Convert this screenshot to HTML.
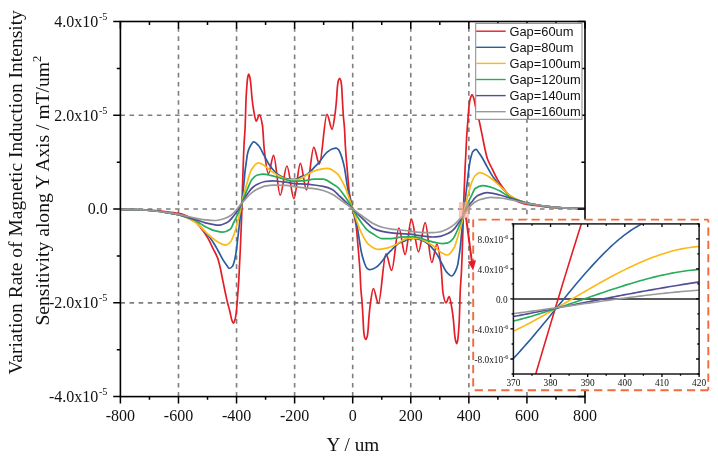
<!DOCTYPE html><html><head><meta charset="utf-8"><style>
html,body{margin:0;padding:0;background:#fff;}
svg{display:block;will-change:transform;}
text{font-family:"Liberation Serif",serif;fill:#111;}
.sans{font-family:"Liberation Sans",sans-serif;}
</style></head><body>
<svg width="718" height="461" viewBox="0 0 718 461">
<defs>
<clipPath id="cp"><rect x="120.40" y="21.50" width="464.60" height="375.10"/></clipPath>
<clipPath id="cpi"><rect x="513.4" y="223.9" width="185.7" height="150.1"/></clipPath>
</defs>
<rect width="718" height="461" fill="#fff"/>

<line x1="178.48" y1="396.60" x2="178.48" y2="21.50" stroke="#7e7e7e" stroke-width="1.6" stroke-dasharray="4.56 4.56"/>
<line x1="236.55" y1="396.60" x2="236.55" y2="21.50" stroke="#7e7e7e" stroke-width="1.6" stroke-dasharray="4.56 4.56"/>
<line x1="294.62" y1="396.60" x2="294.62" y2="21.50" stroke="#7e7e7e" stroke-width="1.6" stroke-dasharray="4.56 4.56"/>
<line x1="352.70" y1="396.60" x2="352.70" y2="21.50" stroke="#7e7e7e" stroke-width="1.6" stroke-dasharray="4.56 4.56"/>
<line x1="410.77" y1="396.60" x2="410.77" y2="21.50" stroke="#7e7e7e" stroke-width="1.6" stroke-dasharray="4.56 4.56"/>
<line x1="468.85" y1="396.60" x2="468.85" y2="21.50" stroke="#7e7e7e" stroke-width="1.6" stroke-dasharray="4.56 4.56"/>
<line x1="526.92" y1="396.60" x2="526.92" y2="21.50" stroke="#7e7e7e" stroke-width="1.6" stroke-dasharray="4.56 4.56"/>
<line x1="120.40" y1="115.27" x2="585.00" y2="115.27" stroke="#7e7e7e" stroke-width="1.6" stroke-dasharray="4.56 4.56"/>
<line x1="120.40" y1="209.05" x2="585.00" y2="209.05" stroke="#7e7e7e" stroke-width="1.6" stroke-dasharray="4.56 4.56"/>
<line x1="120.40" y1="302.83" x2="585.00" y2="302.83" stroke="#7e7e7e" stroke-width="1.6" stroke-dasharray="4.56 4.56"/>
<g clip-path="url(#cp)" fill="none" stroke-width="1.7" stroke-linejoin="round">
<path d="M120.40,209.30C125.27,209.35 130.13,209.47 135.00,209.60C140.00,209.74 145.00,209.92 150.00,210.20C155.00,210.48 160.00,211.06 165.00,211.60C169.47,212.08 173.93,212.49 178.40,213.30C180.27,213.64 182.13,214.17 184.00,214.80C186.00,215.48 188.00,216.46 190.00,217.60C191.67,218.55 193.33,219.72 195.00,221.20C197.60,223.50 200.20,227.10 202.80,230.60C204.53,232.93 206.27,235.42 208.00,238.40C209.73,241.38 211.47,245.31 213.20,248.90C214.80,252.21 216.40,254.52 218.00,259.10C218.87,261.58 219.73,265.63 220.60,269.50C221.30,272.62 222.00,276.55 222.70,280.00C223.73,285.09 224.77,290.23 225.80,295.00C226.40,297.77 227.00,300.57 227.60,303.00C228.37,306.11 229.13,308.34 229.90,311.50C230.47,313.83 231.03,317.57 231.60,319.30C232.17,321.03 232.73,323.20 233.30,323.20C233.90,323.20 234.50,321.26 235.10,319.30C235.53,317.88 235.97,315.10 236.40,311.50C236.63,309.56 236.87,305.97 237.10,303.00C237.30,300.45 237.50,297.69 237.70,295.00C238.07,290.06 238.43,286.21 238.80,280.00C239.03,276.05 239.27,269.67 239.50,265.00C239.77,259.66 240.03,255.66 240.30,250.00C240.70,241.51 241.10,230.70 241.50,220.00C241.70,214.65 241.90,210.02 242.10,203.00C242.20,199.49 242.30,193.67 242.40,190.00C242.73,177.78 243.07,169.02 243.40,160.00C243.60,154.59 243.80,148.91 244.00,145.00C244.37,137.83 244.73,135.52 245.10,128.00C245.43,121.17 245.77,104.67 246.10,98.00C246.43,91.33 246.77,86.72 247.10,83.00C247.30,80.77 247.50,78.51 247.70,77.50C248.03,75.82 248.37,74.20 248.70,74.20C249.07,74.20 249.43,75.63 249.80,77.00C250.10,78.12 250.40,80.51 250.70,83.00C251.13,86.60 251.57,94.03 252.00,98.00C252.53,102.88 253.07,107.02 253.60,110.00C254.47,114.85 255.33,121.20 256.20,121.20C257.27,121.20 258.33,114.90 259.40,114.90C260.40,114.90 261.40,119.39 262.40,125.00C263.03,128.55 263.67,144.64 264.30,150.00C265.67,161.56 267.03,173.80 268.40,173.80C270.13,173.80 271.87,155.30 273.60,155.30C275.80,155.30 278.00,195.20 280.20,195.20C282.43,195.20 284.67,166.00 286.90,166.00C289.27,166.00 291.63,198.60 294.00,198.60C296.10,198.60 298.20,163.30 300.30,163.30C302.37,163.30 304.43,189.80 306.50,189.80C308.93,189.80 311.37,147.40 313.80,147.40C315.67,147.40 317.53,164.00 319.40,164.00C321.93,164.00 324.47,114.30 327.00,114.30C328.70,114.30 330.40,129.30 332.10,129.30C333.03,129.30 333.97,121.34 334.90,115.00C335.43,111.38 335.97,106.19 336.50,100.00C336.80,96.52 337.10,89.71 337.40,87.00C337.73,83.99 338.07,81.47 338.40,80.50C338.80,79.34 339.20,78.30 339.60,78.30C340.00,78.30 340.40,79.30 340.80,80.50C341.10,81.40 341.40,83.82 341.70,87.00C341.93,89.47 342.17,95.89 342.40,100.00C342.70,105.28 343.00,110.86 343.30,115.00C343.73,120.97 344.17,123.30 344.60,130.00C344.83,133.61 345.07,141.05 345.30,145.00C345.67,151.21 346.03,155.41 346.40,160.00C346.83,165.43 347.27,170.00 347.70,175.00C348.13,180.00 348.57,186.57 349.00,190.00C349.57,194.48 350.13,197.12 350.70,200.00C351.37,203.39 352.03,205.93 352.70,208.90C353.37,211.87 354.03,214.41 354.70,217.80C355.27,220.68 355.83,223.32 356.40,227.80C356.83,231.23 357.27,237.80 357.70,242.80C358.13,247.80 358.57,252.37 359.00,257.80C359.37,262.39 359.73,266.59 360.10,272.80C360.33,276.75 360.57,284.19 360.80,287.80C361.23,294.50 361.67,296.83 362.10,302.80C362.40,306.94 362.70,312.52 363.00,317.80C363.23,321.91 363.47,328.33 363.70,330.80C364.00,333.98 364.30,336.40 364.60,337.30C365.00,338.50 365.40,339.50 365.80,339.50C366.20,339.50 366.60,338.46 367.00,337.30C367.33,336.33 367.67,333.81 368.00,330.80C368.30,328.09 368.60,321.28 368.90,317.80C369.43,311.61 369.97,306.42 370.50,302.80C371.43,296.46 372.37,288.50 373.30,288.50C375.00,288.50 376.70,303.50 378.40,303.50C380.93,303.50 383.47,253.80 386.00,253.80C387.87,253.80 389.73,270.40 391.60,270.40C394.03,270.40 396.47,228.00 398.90,228.00C400.97,228.00 403.03,254.50 405.10,254.50C407.20,254.50 409.30,219.20 411.40,219.20C413.77,219.20 416.13,251.80 418.50,251.80C420.73,251.80 422.97,222.60 425.20,222.60C427.40,222.60 429.60,262.50 431.80,262.50C433.53,262.50 435.27,244.00 437.00,244.00C438.37,244.00 439.73,256.24 441.10,267.80C441.73,273.16 442.37,289.25 443.00,292.80C444.00,298.41 445.00,302.90 446.00,302.90C447.07,302.90 448.13,296.60 449.20,296.60C450.07,296.60 450.93,302.95 451.80,307.80C452.33,310.78 452.87,314.92 453.40,319.80C453.83,323.77 454.27,331.20 454.70,334.80C455.00,337.29 455.30,339.68 455.60,340.80C455.97,342.17 456.33,343.60 456.70,343.60C457.03,343.60 457.37,341.98 457.70,340.30C457.90,339.29 458.10,337.03 458.30,334.80C458.63,331.08 458.97,326.47 459.30,319.80C459.63,313.13 459.97,296.63 460.30,289.80C460.67,282.28 461.03,279.97 461.40,272.80C461.60,268.89 461.80,263.21 462.00,257.80C462.33,248.78 462.67,240.02 463.00,227.80C463.10,224.13 463.20,218.31 463.30,214.80C463.50,207.78 463.70,203.15 463.90,197.80C464.30,187.10 464.70,176.29 465.10,167.80C465.37,162.14 465.63,158.14 465.90,152.80C466.13,148.13 466.37,141.75 466.60,137.80C466.97,131.59 467.33,127.74 467.70,122.80C467.90,120.11 468.10,117.35 468.30,114.80C468.53,111.83 468.77,108.24 469.00,106.30C469.43,102.70 469.87,99.92 470.30,98.50C470.90,96.54 471.50,94.60 472.10,94.60C472.67,94.60 473.23,96.77 473.80,98.50C474.37,100.23 474.93,103.97 475.50,106.30C476.27,109.46 477.03,111.69 477.80,114.80C478.40,117.23 479.00,120.03 479.60,122.80C480.63,127.57 481.67,132.71 482.70,137.80C483.40,141.25 484.10,145.18 484.80,148.30C485.67,152.17 486.53,156.22 487.40,158.70C489.00,163.28 490.60,165.59 492.20,168.90C493.93,172.49 495.67,176.42 497.40,179.40C499.13,182.38 500.87,184.87 502.60,187.20C505.20,190.70 507.80,194.30 510.40,196.60C512.07,198.08 513.73,199.25 515.40,200.20C517.40,201.34 519.40,202.32 521.40,203.00C523.27,203.63 525.13,204.16 527.00,204.50C531.47,205.31 535.93,205.72 540.40,206.20C545.40,206.74 550.40,207.32 555.40,207.60C560.40,207.88 565.40,208.06 570.40,208.20C575.27,208.33 580.13,208.45 585.00,208.50" stroke="#e41e26"/>
<path d="M120.40,209.30C125.27,209.37 130.13,209.52 135.00,209.70C140.00,209.88 145.00,210.13 150.00,210.50C155.00,210.87 160.00,211.59 165.00,212.30C169.47,212.93 173.93,213.55 178.40,214.60C180.60,215.12 182.80,215.98 185.00,216.80C186.67,217.42 188.33,218.11 190.00,218.90C191.67,219.69 193.33,220.46 195.00,221.60C197.60,223.38 200.20,226.52 202.80,229.30C203.53,230.09 204.27,230.95 205.00,231.80C206.53,233.58 208.07,235.31 209.60,237.30C211.10,239.25 212.60,241.33 214.10,243.70C215.57,246.02 217.03,248.86 218.50,251.50C220.07,254.32 221.63,257.57 223.20,260.10C224.43,262.09 225.67,263.85 226.90,265.50C227.70,266.57 228.50,268.50 229.30,268.50C230.37,268.50 231.43,267.54 232.50,266.30C233.17,265.52 233.83,263.00 234.50,260.50C235.00,258.62 235.50,255.92 236.00,252.80C236.53,249.47 237.07,244.42 237.60,240.00C238.07,236.13 238.53,232.00 239.00,228.00C239.47,224.00 239.93,220.02 240.40,216.00C240.90,211.69 241.40,207.57 241.90,203.00C242.23,199.95 242.57,196.65 242.90,193.40C243.27,189.83 243.63,186.29 244.00,182.50C244.33,179.05 244.67,174.68 245.00,171.70C245.50,167.23 246.00,163.95 246.50,160.50C246.87,157.97 247.23,154.97 247.60,153.40C248.23,150.69 248.87,148.86 249.50,147.60C250.90,144.81 252.30,141.80 253.70,141.80C255.30,141.80 256.90,143.80 258.50,145.50C260.30,147.41 262.10,151.75 263.90,155.00C265.47,157.83 267.03,161.31 268.60,163.70C270.63,166.80 272.67,169.49 274.70,171.50C276.47,173.24 278.23,174.77 280.00,175.80C282.00,176.96 284.00,178.09 286.00,178.50C288.00,178.91 290.00,179.30 292.00,179.30C293.43,179.30 294.87,179.17 296.30,179.00C297.90,178.81 299.50,177.26 301.10,176.60C302.73,175.93 304.37,175.69 306.00,174.90C307.37,174.24 308.73,172.91 310.10,171.70C311.73,170.25 313.37,168.26 315.00,166.60C316.33,165.24 317.67,164.18 319.00,162.60C320.10,161.30 321.20,159.32 322.30,157.90C323.93,155.79 325.57,153.58 327.20,152.20C328.80,150.85 330.40,149.52 332.00,149.00C333.37,148.55 334.73,148.10 336.10,148.10C336.90,148.10 337.70,148.83 338.50,149.60C339.23,150.31 339.97,152.28 340.70,154.10C341.33,155.67 341.97,157.77 342.60,160.00C343.17,162.00 343.73,164.18 344.30,166.90C345.53,172.81 346.77,183.91 348.00,190.00C349.57,197.73 351.13,202.60 352.70,208.90C354.27,215.20 355.83,220.07 357.40,227.80C358.63,233.89 359.87,244.99 361.10,250.90C361.67,253.62 362.23,255.80 362.80,257.80C363.43,260.03 364.07,262.13 364.70,263.70C365.43,265.52 366.17,267.49 366.90,268.20C367.70,268.97 368.50,269.70 369.30,269.70C370.67,269.70 372.03,269.25 373.40,268.80C375.00,268.28 376.60,266.95 378.20,265.60C379.83,264.22 381.47,262.01 383.10,259.90C384.20,258.48 385.30,256.50 386.40,255.20C387.73,253.62 389.07,252.56 390.40,251.20C392.03,249.54 393.67,247.55 395.30,246.10C396.67,244.89 398.03,243.56 399.40,242.90C401.03,242.11 402.67,241.87 404.30,241.20C405.90,240.54 407.50,238.99 409.10,238.80C410.53,238.63 411.97,238.50 413.40,238.50C415.40,238.50 417.40,238.89 419.40,239.30C421.40,239.71 423.40,240.84 425.40,242.00C427.17,243.03 428.93,244.56 430.70,246.30C432.73,248.31 434.77,251.00 436.80,254.10C438.37,256.49 439.93,259.97 441.50,262.80C443.30,266.05 445.10,270.39 446.90,272.30C448.50,274.00 450.10,276.00 451.70,276.00C453.10,276.00 454.50,272.99 455.90,270.20C456.53,268.94 457.17,267.11 457.80,264.40C458.17,262.83 458.53,259.83 458.90,257.30C459.40,253.85 459.90,250.57 460.40,246.10C460.73,243.12 461.07,238.75 461.40,235.30C461.77,231.51 462.13,227.97 462.50,224.40C462.83,221.15 463.17,217.85 463.50,214.80C464.00,210.23 464.50,206.11 465.00,201.80C465.47,197.78 465.93,193.80 466.40,189.80C466.87,185.80 467.33,181.67 467.80,177.80C468.33,173.38 468.87,168.33 469.40,165.00C469.90,161.88 470.40,159.18 470.90,157.30C471.57,154.80 472.23,152.28 472.90,151.50C473.97,150.26 475.03,149.30 476.10,149.30C476.90,149.30 477.70,151.23 478.50,152.30C479.73,153.95 480.97,155.71 482.20,157.70C483.77,160.23 485.33,163.48 486.90,166.30C488.37,168.94 489.83,171.78 491.30,174.10C492.80,176.47 494.30,178.55 495.80,180.50C497.33,182.49 498.87,184.22 500.40,186.00C501.13,186.85 501.87,187.71 502.60,188.50C505.20,191.28 507.80,194.42 510.40,196.20C512.07,197.34 513.73,198.11 515.40,198.90C517.07,199.69 518.73,200.38 520.40,201.00C522.60,201.82 524.80,202.68 527.00,203.20C531.47,204.25 535.93,204.87 540.40,205.50C545.40,206.21 550.40,206.93 555.40,207.30C560.40,207.67 565.40,207.92 570.40,208.10C575.27,208.28 580.13,208.43 585.00,208.50" stroke="#2a5d9f"/>
<path d="M120.40,209.30C125.27,209.37 130.13,209.52 135.00,209.70C140.00,209.88 145.00,210.13 150.00,210.50C155.00,210.87 160.00,211.59 165.00,212.30C169.47,212.93 173.93,213.53 178.40,214.60C180.60,215.13 182.80,216.00 185.00,216.90C188.33,218.26 191.67,219.77 195.00,222.00C197.60,223.74 200.20,226.88 202.80,229.30C205.40,231.72 208.00,234.36 210.60,236.50C213.20,238.64 215.80,240.98 218.40,242.30C220.80,243.52 223.20,245.10 225.60,245.10C227.13,245.10 228.67,243.76 230.20,242.30C231.47,241.09 232.73,237.78 234.00,234.50C234.90,232.17 235.80,228.66 236.70,225.40C237.67,221.90 238.63,218.19 239.60,214.00C240.37,210.68 241.13,206.88 241.90,203.00C242.23,201.31 242.57,199.17 242.90,197.70C243.60,194.62 244.30,192.58 245.00,190.10C245.93,186.79 246.87,183.44 247.80,180.40C248.87,176.93 249.93,172.43 251.00,170.60C253.37,166.53 255.73,162.80 258.10,162.80C260.17,162.80 262.23,164.24 264.30,165.40C266.33,166.54 268.37,169.13 270.40,170.60C273.60,172.91 276.80,174.87 280.00,176.50C282.27,177.65 284.53,179.41 286.80,179.50C290.27,179.64 293.73,179.70 297.20,179.70C298.13,179.70 299.07,179.24 300.00,178.90C303.07,177.78 306.13,174.87 309.20,173.40C312.30,171.92 315.40,170.35 318.50,169.70C321.57,169.06 324.63,168.40 327.70,168.40C330.77,168.40 333.83,170.86 336.90,173.40C339.37,175.44 341.83,180.36 344.30,185.40C347.10,191.12 349.90,201.07 352.70,208.90C355.50,216.73 358.30,226.68 361.10,232.40C363.57,237.44 366.03,242.36 368.50,244.40C371.57,246.94 374.63,249.40 377.70,249.40C380.77,249.40 383.83,248.74 386.90,248.10C390.00,247.45 393.10,245.88 396.20,244.40C399.27,242.93 402.33,240.02 405.40,238.90C406.33,238.56 407.27,238.10 408.20,238.10C411.67,238.10 415.13,238.16 418.60,238.30C420.87,238.39 423.13,240.15 425.40,241.30C428.60,242.93 431.80,244.89 435.00,247.20C437.03,248.67 439.07,251.26 441.10,252.40C443.17,253.56 445.23,255.00 447.30,255.00C449.67,255.00 452.03,251.27 454.40,247.20C455.47,245.37 456.53,240.87 457.60,237.40C458.53,234.36 459.47,231.01 460.40,227.70C461.10,225.22 461.80,223.18 462.50,220.10C462.83,218.63 463.17,216.49 463.50,214.80C464.27,210.92 465.03,207.12 465.80,203.80C466.77,199.61 467.73,195.90 468.70,192.40C469.60,189.14 470.50,185.63 471.40,183.30C472.67,180.02 473.93,176.71 475.20,175.50C476.73,174.04 478.27,172.70 479.80,172.70C482.20,172.70 484.60,174.28 487.00,175.50C489.60,176.82 492.20,179.16 494.80,181.30C497.40,183.44 500.00,186.08 502.60,188.50C505.20,190.92 507.80,194.06 510.40,195.80C513.73,198.03 517.07,199.54 520.40,200.90C522.60,201.80 524.80,202.67 527.00,203.20C531.47,204.27 535.93,204.87 540.40,205.50C545.40,206.21 550.40,206.93 555.40,207.30C560.40,207.67 565.40,207.92 570.40,208.10C575.27,208.28 580.13,208.43 585.00,208.50" stroke="#fbb913"/>
<path d="M120.40,209.30C125.27,209.37 130.13,209.52 135.00,209.70C140.00,209.88 145.00,210.13 150.00,210.50C155.00,210.87 160.00,211.59 165.00,212.30C169.47,212.93 173.93,213.57 178.40,214.60C180.60,215.11 182.80,215.96 185.00,216.70C188.33,217.82 191.67,218.79 195.00,220.30C198.47,221.87 201.93,224.96 205.40,226.70C208.43,228.23 211.47,229.81 214.50,230.60C217.33,231.34 220.17,232.20 223.00,232.20C225.40,232.20 227.80,231.01 230.20,229.30C231.47,228.40 232.73,224.56 234.00,222.00C235.40,219.17 236.80,216.35 238.20,213.00C239.43,210.04 240.67,206.27 241.90,203.00C243.13,199.73 244.37,196.46 245.60,193.40C246.67,190.76 247.73,188.10 248.80,185.80C249.90,183.43 251.00,180.59 252.10,179.30C253.90,177.19 255.70,175.42 257.50,175.00C259.50,174.54 261.50,174.20 263.50,174.20C265.80,174.20 268.10,174.92 270.40,175.40C273.60,176.07 276.80,177.17 280.00,178.00C284.33,179.12 288.67,181.20 293.00,181.20C297.00,181.20 301.00,180.91 305.00,180.60C308.03,180.36 311.07,179.10 314.10,179.10C317.13,179.10 320.17,179.13 323.20,179.20C326.23,179.27 329.27,181.94 332.30,183.70C334.20,184.80 336.10,185.92 338.00,187.60C339.73,189.13 341.47,191.68 343.20,194.00C344.80,196.14 346.40,198.53 348.00,201.00C349.57,203.42 351.13,206.07 352.70,208.70C354.27,211.33 355.83,214.32 357.40,216.80C359.00,219.33 360.60,221.66 362.20,223.80C363.93,226.12 365.67,228.67 367.40,230.20C369.30,231.88 371.20,233.00 373.10,234.10C376.13,235.86 379.17,238.53 382.20,238.60C385.23,238.67 388.27,238.70 391.30,238.70C394.33,238.70 397.37,237.44 400.40,237.20C404.40,236.89 408.40,236.60 412.40,236.60C416.73,236.60 421.07,238.68 425.40,239.80C428.60,240.63 431.80,241.73 435.00,242.40C437.30,242.88 439.60,243.60 441.90,243.60C443.90,243.60 445.90,243.26 447.90,242.80C449.70,242.38 451.50,240.61 453.30,238.50C454.40,237.21 455.50,234.37 456.60,232.00C457.67,229.70 458.73,227.04 459.80,224.40C461.03,221.34 462.27,218.07 463.50,214.80C464.73,211.53 465.97,207.76 467.20,204.80C468.60,201.45 470.00,198.63 471.40,195.80C472.67,193.24 473.93,189.40 475.20,188.50C477.60,186.79 480.00,185.60 482.40,185.60C485.23,185.60 488.07,186.46 490.90,187.20C493.93,187.99 496.97,189.57 500.00,191.10C503.47,192.84 506.93,195.93 510.40,197.50C513.73,199.01 517.07,199.98 520.40,201.10C522.60,201.84 524.80,202.69 527.00,203.20C531.47,204.23 535.93,204.87 540.40,205.50C545.40,206.21 550.40,206.93 555.40,207.30C560.40,207.67 565.40,207.92 570.40,208.10C575.27,208.28 580.13,208.43 585.00,208.50" stroke="#26ac5a"/>
<path d="M120.40,209.30C125.27,209.37 130.13,209.52 135.00,209.70C140.00,209.88 145.00,210.13 150.00,210.50C155.00,210.87 160.00,211.59 165.00,212.30C169.47,212.93 173.93,213.63 178.40,214.60C180.60,215.08 182.80,215.77 185.00,216.40C188.33,217.35 191.67,218.36 195.00,219.40C198.47,220.48 201.93,221.97 205.40,222.80C209.73,223.83 214.07,225.20 218.40,225.20C221.47,225.20 224.53,223.77 227.60,222.20C229.73,221.10 231.87,218.04 234.00,215.50C235.00,214.31 236.00,212.99 237.00,211.50C238.63,209.06 240.27,205.75 241.90,203.00C243.87,199.69 245.83,196.17 247.80,193.40C249.23,191.38 250.67,189.31 252.10,188.00C253.90,186.36 255.70,185.07 257.50,184.20C260.03,182.98 262.57,181.86 265.10,181.50C267.73,181.13 270.37,180.80 273.00,180.80C275.33,180.80 277.67,181.25 280.00,181.50C282.00,181.72 284.00,181.94 286.00,182.20C289.00,182.60 292.00,183.37 295.00,183.60C298.33,183.85 301.67,183.88 305.00,184.10C308.03,184.30 311.07,184.63 314.10,185.00C317.13,185.37 320.17,185.75 323.20,186.40C326.23,187.05 329.27,188.05 332.30,189.60C334.87,190.91 337.43,194.15 340.00,196.50C342.17,198.49 344.33,200.52 346.50,202.60C348.57,204.59 350.63,206.60 352.70,208.70C354.77,210.80 356.83,213.15 358.90,215.20C361.07,217.35 363.23,219.31 365.40,221.30C367.97,223.65 370.53,226.89 373.10,228.20C376.13,229.75 379.17,230.75 382.20,231.40C385.23,232.05 388.27,232.43 391.30,232.80C394.33,233.17 397.37,233.50 400.40,233.70C403.73,233.92 407.07,233.95 410.40,234.20C413.40,234.43 416.40,235.20 419.40,235.60C421.40,235.86 423.40,236.08 425.40,236.30C427.73,236.55 430.07,237.00 432.40,237.00C435.03,237.00 437.67,236.67 440.30,236.30C442.83,235.94 445.37,234.82 447.90,233.60C449.70,232.73 451.50,231.44 453.30,229.80C454.73,228.49 456.17,226.42 457.60,224.40C459.57,221.63 461.53,218.11 463.50,214.80C465.13,212.05 466.77,208.74 468.40,206.30C469.40,204.81 470.40,203.49 471.40,202.30C473.53,199.76 475.67,196.70 477.80,195.60C480.87,194.03 483.93,192.60 487.00,192.60C491.33,192.60 495.67,193.97 500.00,195.00C503.47,195.83 506.93,197.32 510.40,198.40C513.73,199.44 517.07,200.45 520.40,201.40C522.60,202.03 524.80,202.72 527.00,203.20C531.47,204.17 535.93,204.87 540.40,205.50C545.40,206.21 550.40,206.93 555.40,207.30C560.40,207.67 565.40,207.92 570.40,208.10C575.27,208.28 580.13,208.43 585.00,208.50" stroke="#524f98"/>
<path d="M120.40,209.30C125.27,209.37 130.13,209.52 135.00,209.70C140.00,209.88 145.00,210.13 150.00,210.50C155.00,210.87 160.00,211.62 165.00,212.30C169.47,212.91 173.93,213.58 178.40,214.40C180.60,214.80 182.80,215.32 185.00,215.80C188.33,216.53 191.67,217.45 195.00,218.10C198.33,218.75 201.67,219.46 205.00,219.80C208.17,220.12 211.33,220.50 214.50,220.50C218.00,220.50 221.50,219.37 225.00,218.30C227.17,217.64 229.33,216.48 231.50,215.00C234.97,212.63 238.43,206.90 241.90,203.00C243.50,201.20 245.10,199.38 246.70,197.70C248.13,196.20 249.57,194.57 251.00,193.40C253.17,191.63 255.33,190.05 257.50,189.00C260.40,187.60 263.30,186.20 266.20,185.80C268.47,185.49 270.73,185.20 273.00,185.20C277.33,185.20 281.67,185.28 286.00,185.40C289.33,185.50 292.67,186.39 296.00,186.80C299.00,187.17 302.00,187.49 305.00,187.80C308.03,188.12 311.07,188.30 314.10,188.70C317.13,189.10 320.17,189.69 323.20,190.50C326.23,191.31 329.27,192.71 332.30,194.30C334.87,195.64 337.43,197.81 340.00,199.60C342.17,201.11 344.33,202.65 346.50,204.20C348.57,205.68 350.63,207.14 352.70,208.70C354.77,210.26 356.83,212.06 358.90,213.60C361.07,215.22 363.23,216.69 365.40,218.20C367.97,219.99 370.53,222.16 373.10,223.50C376.13,225.09 379.17,226.49 382.20,227.30C385.23,228.11 388.27,228.70 391.30,229.10C394.33,229.50 397.37,229.68 400.40,230.00C403.40,230.31 406.40,230.63 409.40,231.00C412.73,231.41 416.07,232.30 419.40,232.40C423.73,232.52 428.07,232.60 432.40,232.60C434.67,232.60 436.93,232.31 439.20,232.00C442.10,231.60 445.00,230.20 447.90,228.80C450.07,227.75 452.23,226.17 454.40,224.40C455.83,223.23 457.27,221.60 458.70,220.10C460.30,218.42 461.90,216.60 463.50,214.80C466.97,210.90 470.43,205.17 473.90,202.80C476.07,201.32 478.23,200.16 480.40,199.50C483.90,198.43 487.40,197.30 490.90,197.30C494.07,197.30 497.23,197.68 500.40,198.00C503.73,198.34 507.07,199.05 510.40,199.70C513.73,200.35 517.07,201.27 520.40,202.00C522.60,202.48 524.80,203.00 527.00,203.40C531.47,204.22 535.93,204.89 540.40,205.50C545.40,206.18 550.40,206.93 555.40,207.30C560.40,207.67 565.40,207.92 570.40,208.10C575.27,208.28 580.13,208.43 585.00,208.50" stroke="#999999"/>
</g>
<rect x="120.40" y="21.50" width="464.60" height="375.10" fill="none" stroke="#000" stroke-width="1.6"/>
<path d="M120.40,396.60v6.8M120.40,21.50v7.2M149.44,396.60v3.2M149.44,21.50v3.6M178.48,396.60v6.8M178.48,21.50v7.2M207.51,396.60v3.2M207.51,21.50v3.6M236.55,396.60v6.8M236.55,21.50v7.2M265.59,396.60v3.2M265.59,21.50v3.6M294.62,396.60v6.8M294.62,21.50v7.2M323.66,396.60v3.2M323.66,21.50v3.6M352.70,396.60v6.8M352.70,21.50v7.2M381.74,396.60v3.2M381.74,21.50v3.6M410.77,396.60v6.8M410.77,21.50v7.2M439.81,396.60v3.2M439.81,21.50v3.6M468.85,396.60v6.8M468.85,21.50v7.2M497.89,396.60v3.2M497.89,21.50v3.6M526.92,396.60v6.8M526.92,21.50v7.2M555.96,396.60v3.2M555.96,21.50v3.6M585.00,396.60v6.8M585.00,21.50v7.2M120.40,396.60h-7.2M585.00,396.60h-7.2M120.40,349.71h-3.6M585.00,349.71h-3.6M120.40,302.83h-7.2M585.00,302.83h-7.2M120.40,255.94h-3.6M585.00,255.94h-3.6M120.40,209.05h-7.2M585.00,209.05h-7.2M120.40,162.16h-3.6M585.00,162.16h-3.6M120.40,115.27h-7.2M585.00,115.27h-7.2M120.40,68.39h-3.6M585.00,68.39h-3.6M120.40,21.50h-7.2M585.00,21.50h-7.2" stroke="#000" stroke-width="1.5" fill="none"/>
<text x="120.40" y="420.8" font-size="16" text-anchor="middle">-800</text>
<text x="178.48" y="420.8" font-size="16" text-anchor="middle">-600</text>
<text x="236.55" y="420.8" font-size="16" text-anchor="middle">-400</text>
<text x="294.62" y="420.8" font-size="16" text-anchor="middle">-200</text>
<text x="352.70" y="420.8" font-size="16" text-anchor="middle">0</text>
<text x="410.77" y="420.8" font-size="16" text-anchor="middle">200</text>
<text x="468.85" y="420.8" font-size="16" text-anchor="middle">400</text>
<text x="526.92" y="420.8" font-size="16" text-anchor="middle">600</text>
<text x="585.00" y="420.8" font-size="16" text-anchor="middle">800</text>
<text x="107.4" y="26.90" font-size="16" text-anchor="end">4.0x10<tspan font-size="10.2" dy="-6.9" dx="0.6">-5</tspan></text>
<text x="107.4" y="120.67" font-size="16" text-anchor="end">2.0x10<tspan font-size="10.2" dy="-6.9" dx="0.6">-5</tspan></text>
<text x="107.8" y="214.45" font-size="16" text-anchor="end">0.0</text>
<text x="107.4" y="308.23" font-size="16" text-anchor="end">-2.0x10<tspan font-size="10.2" dy="-6.9" dx="0.6">-5</tspan></text>
<text x="107.4" y="402.00" font-size="16" text-anchor="end">-4.0x10<tspan font-size="10.2" dy="-6.9" dx="0.6">-5</tspan></text>
<text x="352.9" y="451.2" font-size="19.2" text-anchor="middle">Y / um</text>
<text transform="translate(21.8,192.4) rotate(-90)" font-size="19.5" text-anchor="middle">Variation Rate of Magnetic Induction Intensity</text>
<text transform="translate(48.8,190.6) rotate(-90)" font-size="19.6" text-anchor="middle">Sensitivity along Y Axis / mT/um<tspan font-size="12.5" dy="-8">2</tspan></text>
<rect x="475.7" y="23.4" width="106.3" height="95.9" fill="#fff" stroke="#888" stroke-width="1"/>
<line x1="476.2" y1="31.20" x2="505.7" y2="31.20" stroke="#e41e26" stroke-width="1.4"/>
<text class="sans" transform="translate(509.4,35.60) scale(1.075,1)" font-size="12" fill="#2a2a2a">Gap=60um</text>
<line x1="476.2" y1="47.30" x2="505.7" y2="47.30" stroke="#2a5d9f" stroke-width="1.4"/>
<text class="sans" transform="translate(509.4,51.70) scale(1.075,1)" font-size="12" fill="#2a2a2a">Gap=80um</text>
<line x1="476.2" y1="63.40" x2="505.7" y2="63.40" stroke="#fbb913" stroke-width="1.4"/>
<text class="sans" transform="translate(509.4,67.80) scale(1.075,1)" font-size="12" fill="#2a2a2a">Gap=100um</text>
<line x1="476.2" y1="79.50" x2="505.7" y2="79.50" stroke="#26ac5a" stroke-width="1.4"/>
<text class="sans" transform="translate(509.4,83.90) scale(1.075,1)" font-size="12" fill="#2a2a2a">Gap=120um</text>
<line x1="476.2" y1="95.60" x2="505.7" y2="95.60" stroke="#524f98" stroke-width="1.4"/>
<text class="sans" transform="translate(509.4,100.00) scale(1.075,1)" font-size="12" fill="#2a2a2a">Gap=140um</text>
<line x1="476.2" y1="111.70" x2="505.7" y2="111.70" stroke="#999999" stroke-width="1.4"/>
<text class="sans" transform="translate(509.4,116.10) scale(1.075,1)" font-size="12" fill="#2a2a2a">Gap=160um</text>
<rect x="458.9" y="202.1" width="10" height="16.5" fill="#f4a58a" fill-opacity="0.6"/>
<rect x="473.2" y="219.6" width="235.1" height="170.6" fill="#fff"/>
<path d="M473.2,219.6 H708.3" fill="none" stroke="#f26b3a" stroke-width="1.9" stroke-dasharray="8.2 5.07" stroke-dashoffset="8.07"/>
<path d="M708.3,219.6 V390.2" fill="none" stroke="#f26b3a" stroke-width="1.9" stroke-dasharray="8.2 5.07" stroke-dashoffset="5.27"/>
<path d="M708.3,390.2 H473.2" fill="none" stroke="#f26b3a" stroke-width="1.9" stroke-dasharray="8.2 5.07" stroke-dashoffset="0.17"/>
<path d="M473.2,390.2 V219.6" fill="none" stroke="#f26b3a" stroke-width="1.9" stroke-dasharray="8.2 5.07" stroke-dashoffset="9.57"/>
<line x1="513.40" y1="298.95" x2="699.10" y2="298.95" stroke="#222" stroke-width="1.6"/>
<g clip-path="url(#cpi)" fill="none" stroke-width="1.6">
<path d="M511.40,459.07 L514.62,447.65 L517.83,436.29 L521.05,424.99 L524.26,413.74 L527.48,402.55 L530.69,391.43 L533.91,380.36 L537.12,369.34 L540.34,358.39 L543.55,347.50 L546.77,336.66 L549.98,325.88 L553.20,315.16 L556.41,304.50 L559.63,293.90 L562.84,283.35 L566.06,272.87 L569.27,262.44 L572.49,252.07 L575.71,241.76 L578.92,231.51 L582.14,221.31 L585.35,211.18 L588.57,201.10 L591.78,191.08 L595.00,181.12 L598.21,171.22 L601.43,161.38 L604.64,151.59 L607.86,141.86 L611.07,132.19 L614.29,122.58 L617.50,113.03 L620.72,103.54 L623.93,94.10 L627.15,84.73 L630.36,75.41 L633.58,66.15 L636.79,56.95 L640.01,47.80 L643.23,38.72 L646.44,29.69 L649.66,20.72 L652.87,11.81 L656.09,2.96 L659.30,-5.83 L662.52,-14.56 L665.73,-23.24 L668.95,-31.86 L672.16,-40.42 L675.38,-48.92 L678.59,-57.36 L681.81,-65.75 L685.02,-74.07 L688.24,-82.34 L691.45,-90.55 L694.67,-98.70 L697.88,-106.79 L701.10,-114.83" stroke="#e41e26"/>
<path d="M511.40,360.50 L514.62,357.12 L517.83,353.67 L521.05,350.14 L524.26,346.54 L527.48,342.88 L530.69,339.16 L533.91,335.38 L537.12,331.56 L540.34,327.70 L543.55,323.82 L546.77,319.90 L549.98,315.97 L553.20,312.02 L556.41,308.07 L559.63,304.12 L562.84,300.18 L566.06,296.25 L569.27,292.34 L572.49,288.46 L575.71,284.61 L578.92,280.81 L582.14,277.05 L585.35,273.34 L588.57,269.70 L591.78,266.12 L595.00,262.61 L598.21,259.19 L601.43,255.85 L604.64,252.60 L607.86,249.46 L611.07,246.41 L614.29,243.49 L617.50,240.68 L620.72,238.00 L623.93,235.45 L627.15,233.04 L630.36,230.77 L633.58,228.66 L636.79,226.70 L640.01,224.91 L643.23,223.26 L646.44,221.61 L649.66,219.95 L652.87,218.30 L656.09,216.65 L659.30,215.00 L662.52,213.35 L665.73,211.70 L668.95,210.05 L672.16,208.40 L675.38,206.75 L678.59,205.10 L681.81,203.45 L685.02,201.80 L688.24,200.15 L691.45,198.50 L694.67,196.85 L697.88,195.19 L701.10,193.54" stroke="#2a5d9f"/>
<path d="M511.40,332.16 L514.62,330.63 L517.83,329.07 L521.05,327.47 L524.26,325.84 L527.48,324.17 L530.69,322.48 L533.91,320.76 L537.12,319.01 L540.34,317.25 L543.55,315.46 L546.77,313.65 L549.98,311.82 L553.20,309.98 L556.41,308.13 L559.63,306.27 L562.84,304.39 L566.06,302.52 L569.27,300.64 L572.49,298.75 L575.71,296.87 L578.92,294.99 L582.14,293.11 L585.35,291.24 L588.57,289.38 L591.78,287.53 L595.00,285.70 L598.21,283.88 L601.43,282.07 L604.64,280.29 L607.86,278.53 L611.07,276.79 L614.29,275.07 L617.50,273.39 L620.72,271.73 L623.93,270.11 L627.15,268.52 L630.36,266.97 L633.58,265.46 L636.79,263.99 L640.01,262.56 L643.23,261.17 L646.44,259.84 L649.66,258.55 L652.87,257.31 L656.09,256.13 L659.30,255.00 L662.52,253.93 L665.73,252.92 L668.95,251.98 L672.16,251.09 L675.38,250.28 L678.59,249.53 L681.81,248.85 L685.02,248.25 L688.24,247.72 L691.45,247.27 L694.67,246.89 L697.88,246.60 L701.10,246.34" stroke="#fbb913"/>
<path d="M511.40,321.57 L514.62,320.78 L517.83,319.97 L521.05,319.13 L524.26,318.26 L527.48,317.37 L530.69,316.45 L533.91,315.51 L537.12,314.55 L540.34,313.57 L543.55,312.58 L546.77,311.56 L549.98,310.53 L553.20,309.49 L556.41,308.43 L559.63,307.36 L562.84,306.28 L566.06,305.20 L569.27,304.10 L572.49,303.00 L575.71,301.89 L578.92,300.78 L582.14,299.67 L585.35,298.56 L588.57,297.45 L591.78,296.34 L595.00,295.23 L598.21,294.13 L601.43,293.03 L604.64,291.94 L607.86,290.86 L611.07,289.79 L614.29,288.73 L617.50,287.68 L620.72,286.65 L623.93,285.63 L627.15,284.63 L630.36,283.65 L633.58,282.69 L636.79,281.74 L640.01,280.82 L643.23,279.93 L646.44,279.05 L649.66,278.21 L652.87,277.39 L656.09,276.60 L659.30,275.84 L662.52,275.11 L665.73,274.41 L668.95,273.75 L672.16,273.13 L675.38,272.54 L678.59,271.99 L681.81,271.47 L685.02,271.00 L688.24,270.58 L691.45,270.19 L694.67,269.85 L697.88,269.56 L701.10,269.28" stroke="#26ac5a"/>
<path d="M511.40,316.95 L514.62,316.33 L517.83,315.71 L521.05,315.09 L524.26,314.46 L527.48,313.84 L530.69,313.21 L533.91,312.57 L537.12,311.94 L540.34,311.31 L543.55,310.67 L546.77,310.04 L549.98,309.40 L553.20,308.76 L556.41,308.12 L559.63,307.48 L562.84,306.84 L566.06,306.21 L569.27,305.57 L572.49,304.93 L575.71,304.29 L578.92,303.65 L582.14,303.02 L585.35,302.38 L588.57,301.75 L591.78,301.12 L595.00,300.48 L598.21,299.85 L601.43,299.23 L604.64,298.60 L607.86,297.98 L611.07,297.36 L614.29,296.74 L617.50,296.12 L620.72,295.51 L623.93,294.90 L627.15,294.30 L630.36,293.69 L633.58,293.09 L636.79,292.50 L640.01,291.91 L643.23,291.32 L646.44,290.74 L649.66,290.16 L652.87,289.59 L656.09,289.02 L659.30,288.45 L662.52,287.89 L665.73,287.34 L668.95,286.79 L672.16,286.25 L675.38,285.71 L678.59,285.18 L681.81,284.66 L685.02,284.14 L688.24,283.63 L691.45,283.12 L694.67,282.62 L697.88,282.13 L701.10,281.64" stroke="#524f98"/>
<path d="M511.40,313.88 L514.62,313.47 L517.83,313.05 L521.05,312.63 L524.26,312.20 L527.48,311.77 L530.69,311.34 L533.91,310.90 L537.12,310.45 L540.34,310.01 L543.55,309.56 L546.77,309.10 L549.98,308.65 L553.20,308.19 L556.41,307.73 L559.63,307.27 L562.84,306.81 L566.06,306.35 L569.27,305.88 L572.49,305.42 L575.71,304.95 L578.92,304.49 L582.14,304.03 L585.35,303.56 L588.57,303.10 L591.78,302.64 L595.00,302.18 L598.21,301.73 L601.43,301.27 L604.64,300.82 L607.86,300.37 L611.07,299.92 L614.29,299.48 L617.50,299.04 L620.72,298.61 L623.93,298.18 L627.15,297.75 L630.36,297.33 L633.58,296.92 L636.79,296.51 L640.01,296.10 L643.23,295.71 L646.44,295.31 L649.66,294.93 L652.87,294.55 L656.09,294.18 L659.30,293.82 L662.52,293.47 L665.73,293.12 L668.95,292.78 L672.16,292.46 L675.38,292.14 L678.59,291.83 L681.81,291.53 L685.02,291.24 L688.24,290.96 L691.45,290.69 L694.67,290.43 L697.88,290.18 L701.10,289.94" stroke="#999999"/>
</g>
<rect x="513.40" y="223.90" width="185.70" height="150.10" fill="none" stroke="#1a1a1a" stroke-width="1.5"/>
<path d="M513.40,374.00v3.0M513.40,223.90v3.0M531.97,374.00v1.8M531.97,223.90v1.8M550.54,374.00v3.0M550.54,223.90v3.0M569.11,374.00v1.8M569.11,223.90v1.8M587.68,374.00v3.0M587.68,223.90v3.0M606.25,374.00v1.8M606.25,223.90v1.8M624.82,374.00v3.0M624.82,223.90v3.0M643.39,374.00v1.8M643.39,223.90v1.8M661.96,374.00v3.0M661.96,223.90v3.0M680.53,374.00v1.8M680.53,223.90v1.8M699.10,374.00v3.0M699.10,223.90v3.0M513.40,374.00h-1.8M699.10,374.00h-1.8M513.40,358.99h-3.0M699.10,358.99h-3.0M513.40,343.98h-1.8M699.10,343.98h-1.8M513.40,328.97h-3.0M699.10,328.97h-3.0M513.40,313.96h-1.8M699.10,313.96h-1.8M513.40,298.95h-3.0M699.10,298.95h-3.0M513.40,283.94h-1.8M699.10,283.94h-1.8M513.40,268.93h-3.0M699.10,268.93h-3.0M513.40,253.92h-1.8M699.10,253.92h-1.8M513.40,238.91h-3.0M699.10,238.91h-3.0M513.40,223.90h-1.8M699.10,223.90h-1.8" stroke="#000" stroke-width="1.3" fill="none"/>
<text x="513.40" y="385.7" font-size="9.3" text-anchor="middle" fill="#3a3a3a">370</text>
<text x="550.54" y="385.7" font-size="9.3" text-anchor="middle" fill="#3a3a3a">380</text>
<text x="587.68" y="385.7" font-size="9.3" text-anchor="middle" fill="#3a3a3a">390</text>
<text x="624.82" y="385.7" font-size="9.3" text-anchor="middle" fill="#3a3a3a">400</text>
<text x="661.96" y="385.7" font-size="9.3" text-anchor="middle" fill="#3a3a3a">410</text>
<text x="699.10" y="385.7" font-size="9.3" text-anchor="middle" fill="#3a3a3a">420</text>
<text x="508.3" y="242.81" font-size="9.3" text-anchor="end" fill="#3a3a3a">8.0x10<tspan font-size="6.2" dy="-4">-6</tspan></text>
<text x="508.3" y="272.83" font-size="9.3" text-anchor="end" fill="#3a3a3a">4.0x10<tspan font-size="6.2" dy="-4">-6</tspan></text>
<text x="507.6" y="302.85" font-size="9.3" text-anchor="end" fill="#3a3a3a">0.0</text>
<text x="508.3" y="332.87" font-size="9.3" text-anchor="end" fill="#3a3a3a">-4.0x10<tspan font-size="6.2" dy="-4">-6</tspan></text>
<text x="508.3" y="362.89" font-size="9.3" text-anchor="end" fill="#3a3a3a">-8.0x10<tspan font-size="6.2" dy="-4">-6</tspan></text>
<line x1="466.1" y1="217.6" x2="471.9" y2="262" stroke="#e41e26" stroke-width="2"/>
<path d="M467.8,261.4 L476.0,260.3 L473.1,270.6 Z" fill="#e41e26"/>
</svg></body></html>
